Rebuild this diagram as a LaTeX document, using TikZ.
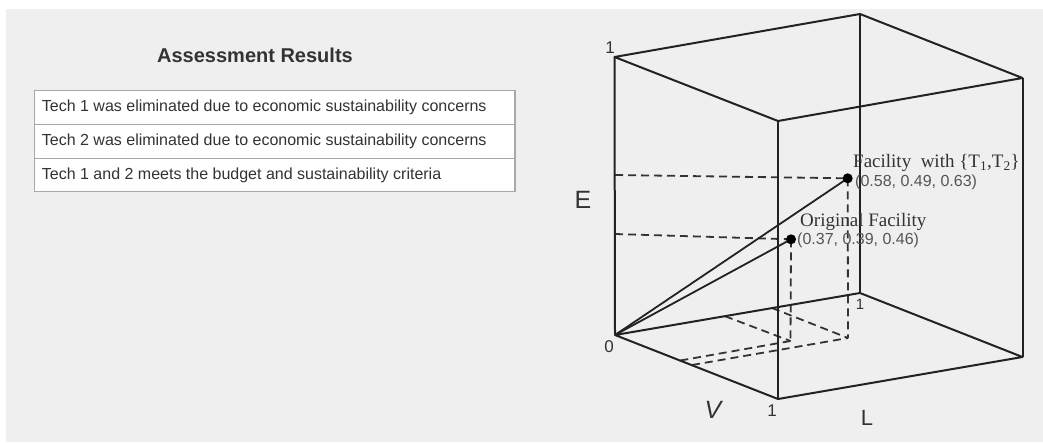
\documentclass[tikz,border=0pt]{standalone}
\usepackage{fontspec}
\setmainfont{Liberation Serif}
\setsansfont{Liberation Sans}
\definecolor{bggray}{HTML}{EFEFEF}
\definecolor{cellborder}{HTML}{A8A8A8}
\definecolor{txtgray}{HTML}{333333}
\definecolor{linegray}{HTML}{222222}
\definecolor{dashgray}{HTML}{333333}
\definecolor{lblgray}{HTML}{555555}
\tikzset{
  cubeedge/.style={draw=linegray, line width=2pt, line join=round},
  guide/.style={draw=dashgray, line width=1.8pt, dash pattern=on 8pt off 5pt},
  ray/.style={draw=linegray, line width=1.8pt},
  celltext/.style={font=\sffamily\fontsize{16}{18}\selectfont, text=txtgray, anchor=west, inner sep=0pt},
  cellbox/.style={draw=cellborder, line width=1.4pt, fill=white},
  serifl/.style={font=\rmfamily\fontsize{19}{21}\selectfont, text=txtgray, anchor=west, inner sep=0pt},
  tuplel/.style={font=\sffamily\fontsize{16}{18}\selectfont, text=lblgray, anchor=west, inner sep=0pt},
  axisl/.style={font=\sffamily\fontsize{25}{27}\selectfont, text=txtgray, inner sep=0pt},
  ticl/.style={font=\sffamily\fontsize{17}{19}\selectfont, text=txtgray, inner sep=0pt},
  facdot/.style={fill=black, circle, minimum size=10pt, inner sep=0pt}
}
\begin{document}
\begin{tikzpicture}[x=1pt,y=-1pt]
\useasboundingbox (0,0) rectangle (1043,442);
\fill[white] (0,0) rectangle (1043,442);
\fill[bggray] (6,9) rectangle (1043,442);

% ---------- left panel ----------
\node[font=\sffamily\bfseries\fontsize{20}{22}\selectfont, text=txtgray] (title) at (255,55) {Assessment Results};
\path[cellbox] (34.3,90.7) rectangle (515,124.3);
\path[cellbox] (34.3,124.3) rectangle (515,158.3);
\path[cellbox] (34.3,158.3) rectangle (515,191.7);
\node[celltext] (r1) at (41.7,107.5) {Tech 1 was eliminated due to economic sustainability concerns};
\node[celltext] (r2) at (41.7,141.3) {Tech 2 was eliminated due to economic sustainability concerns};
\node[celltext] (r3) at (41.7,175) {Tech 1 and 2 meets the budget and sustainability criteria};

% ---------- cube ----------
\coordinate (O) at (615,335);
\coordinate (Et) at (614.5,57);
\coordinate (Lb) at (860,293);
\coordinate (Lt) at (860,14);
\coordinate (Vb) at (778,399);
\coordinate (Vt) at (778,121);
\coordinate (LVb) at (1022.5,357);
\coordinate (LVt) at (1022.5,78);

\coordinate (P1) at (847.7,178.3);
\coordinate (P2) at (791,239.3);
\coordinate (F1) at (848,338);
\coordinate (F2) at (790.5,341);
\coordinate (A1L) at (772,308);
\coordinate (A1V) at (692,365);
\coordinate (A2L) at (725,316.2);
\coordinate (A2V) at (680.3,360.5);
\coordinate (E1) at (615,175);
\coordinate (E2) at (615,234);

% guides
\draw[guide] (E1) -- (P1);
\draw[guide] (E2) -- (P2);
\draw[guide] (P1) -- (F1);
\draw[guide] (P2) -- (F2);
\draw[guide] (A1L) -- (F1);
\draw[guide] (A1V) -- (F1);
\draw[guide] (A2L) -- (F2);
\draw[guide] (A2V) -- (F2);

% edges
\draw[cubeedge] (Et) -- (Lt) -- (LVt) -- (Vt) -- cycle;
\draw[cubeedge] (O) -- (Lb) -- (LVb) -- (Vb) -- cycle;
\draw[cubeedge] (O) -- (Et);
\draw[cubeedge] (Lb) -- (Lt);
\draw[cubeedge] (Vb) -- (Vt);
\draw[cubeedge] (LVb) -- (LVt);

% rays
\draw[ray] (O) -- (P1);
\draw[ray] (O) -- (P2);

\node[facdot] (d1) at (P1) {};
\node[facdot] (d2) at (P2) {};

% labels
\node[serifl] (f1) at (853,163) {Facility\ \ with \{T\textsubscript{1},T\textsubscript{2}\}};
\node[tuplel] (t1) at (855,182) {(0.58, 0.49, 0.63)};
\node[serifl] (f2) at (800,221.7) {Original Facility};
\node[tuplel] (t2) at (797,240) {(0.37, 0.39, 0.46)};

\node[axisl] (lE) at (583,200) {E};
\node[axisl, font=\sffamily\itshape\fontsize{25}{27}\selectfont] (lV) at (713,410) {V};
\node[axisl, font=\sffamily\fontsize{22}{24}\selectfont] (lL) at (867,418) {L};

\node[ticl] (one1) at (610,48) {1};
\node[ticl] (zero) at (609,347) {0};
\node[ticl] (one2) at (772,411) {1};
\node[ticl, font=\sffamily\fontsize{15}{17}\selectfont] (one3) at (860,304) {1};
\end{tikzpicture}
\end{document}
